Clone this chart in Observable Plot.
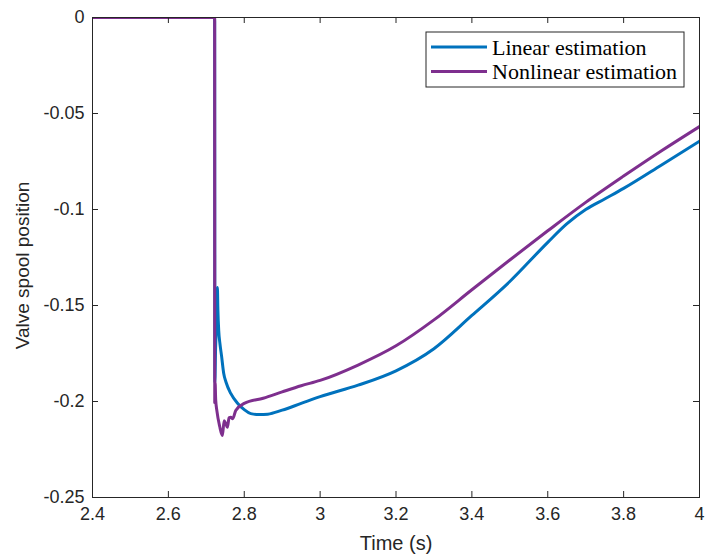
<!DOCTYPE html>
<html><head><meta charset="utf-8">
<script src="https://cdn.jsdelivr.net/npm/d3@7"></script>
<script src="https://cdn.jsdelivr.net/npm/@observablehq/plot@0.6"></script>
<style>body{margin:0;background:#fff}</style>
</head><body><div id="chart"></div>
<script>
const seriesNames = ["Linear estimation", "Nonlinear estimation"];
const seriesColors = ["#0072BD", "#7E2F8E"];

const tLinear = [2.4, 2.722, 2.7225, 2.7245, 2.7265, 2.7292, 2.7305, 2.7327, 2.736, 2.740, 2.7459, 2.752, 2.7644, 2.7828, 2.8, 2.8172, 2.84, 2.862, 2.9, 2.95, 3.0, 3.1, 3.2, 3.3, 3.4, 3.5, 3.6, 3.65, 3.7, 3.75, 3.8, 3.9, 4.0];
const vLinear = [0, 0, -0.19, -0.172, -0.16, -0.1406, -0.152, -0.163, -0.170, -0.176, -0.1854, -0.19, -0.1958, -0.201, -0.2042, -0.2063, -0.2068, -0.2066, -0.2045, -0.201, -0.1975, -0.1915, -0.184, -0.1725, -0.1552, -0.1375, -0.1171, -0.1075, -0.1, -0.0945, -0.089, -0.0768, -0.0644];

const tNonlinear = [2.4, 2.722, 2.7222, 2.7232, 2.7247, 2.728, 2.7353, 2.7424, 2.747, 2.7512, 2.7556, 2.76, 2.7644, 2.7696, 2.7776, 2.8, 2.85, 2.9, 2.95, 3.0, 3.1, 3.2, 3.3, 3.4, 3.5, 3.6, 3.7, 3.8, 3.9, 4.0];
const vNonlinear = [0, 0, -0.2005, -0.190, -0.199, -0.205, -0.213, -0.2177, -0.210, -0.2115, -0.2134, -0.2085, -0.2082, -0.209, -0.2047, -0.201, -0.1983, -0.195, -0.1918, -0.189, -0.181, -0.171, -0.1575, -0.1418, -0.1263, -0.1111, -0.0963, -0.0826, -0.0694, -0.0568];

const xTicks = [2.4, 2.6, 2.8, 3, 3.2, 3.4, 3.6, 3.8, 4];
const xTickLabels = ["2.4", "2.6", "2.8", "3", "3.2", "3.4", "3.6", "3.8", "4"];
const yTicks = [0, -0.05, -0.1, -0.15, -0.2, -0.25];
const yTickLabels = ["0", "-0.05", "-0.1", "-0.15", "-0.2", "-0.25"];
const xLabel = "Time (s)";
const yLabel = "Valve spool position";

const rows = [
  ...tLinear.map((t, i) => ({series: seriesNames[0], t, v: vLinear[i]})),
  ...tNonlinear.map((t, i) => ({series: seriesNames[1], t, v: vNonlinear[i]}))
];

const axisColor = "#262626";
const fmtX = d => xTickLabels[xTicks.indexOf(d)];
const fmtY = d => yTickLabels[yTicks.indexOf(d)];
const W = 705, H = 557, ML = 92, MR = 6, MT = 17, MB = 60;
const innerW = W - ML - MR, innerH = H - MT - MB, tickLen = 6;

const plot = Plot.plot({
  width: W, height: H,
  marginLeft: ML, marginRight: MR, marginTop: MT, marginBottom: MB,
  x: {domain: [2.4, 4]},
  y: {domain: [-0.25, 0]},
  color: {domain: seriesNames, range: seriesColors},
  style: {fontFamily: "'Liberation Sans', Arial, Helvetica, sans-serif", color: axisColor, background: "white"},
  marks: [
    Plot.line(rows, {x: "t", y: "v", z: "series", stroke: "series", strokeWidth: 3, curve: "monotone-x", clip: true}),
    Plot.frame({stroke: axisColor, strokeWidth: 1}),
    Plot.tickX(xTicks, {x: d => d, insetTop: innerH - tickLen, stroke: axisColor}),
    Plot.tickX(xTicks, {x: d => d, insetBottom: innerH - tickLen, stroke: axisColor}),
    Plot.tickY(yTicks, {y: d => d, insetRight: innerW - tickLen, stroke: axisColor}),
    Plot.tickY(yTicks, {y: d => d, insetLeft: innerW - tickLen, stroke: axisColor}),
    Plot.axisX(xTicks, {anchor: "bottom", tickSize: 0, tickPadding: 10, tickFormat: fmtX, fontSize: 18, label: null}),
    Plot.axisY(yTicks, {anchor: "left", tickSize: 0, tickPadding: 8, tickFormat: fmtY, fontSize: 18, label: null}),
    Plot.text([xLabel], {frameAnchor: "bottom", dy: 52, text: d => d, fontSize: 20, fill: axisColor}),
    Plot.text([yLabel], {frameAnchor: "left", dx: -70, dy: 8, rotate: -90, textAnchor: "middle", text: d => d, fontSize: 19, fill: axisColor})
  ]
});

document.getElementById("chart").appendChild(plot);

// Legend (inside the axes, top right)
const svg = d3.select(plot);
const lg = svg.append("g")
  .attr("font-family", "'Liberation Serif', 'Times New Roman', serif")
  .attr("font-size", 22)
  .attr("text-anchor", "start");
lg.append("rect").attr("x", 426).attr("y", 32).attr("width", 258).attr("height", 55)
  .attr("fill", "white").attr("stroke", axisColor).attr("stroke-width", 1);
seriesNames.forEach((name, i) => {
  const yy = 47 + i * 24.5;
  lg.append("line").attr("x1", 431).attr("x2", 487).attr("y1", yy).attr("y2", yy)
    .attr("stroke", seriesColors[i]).attr("stroke-width", 3);
  lg.append("text").attr("x", 492).attr("y", yy).attr("dy", "0.35em")
    .attr("text-anchor", "start").attr("fill", "#000").text(name);
});
</script>
</body></html>
